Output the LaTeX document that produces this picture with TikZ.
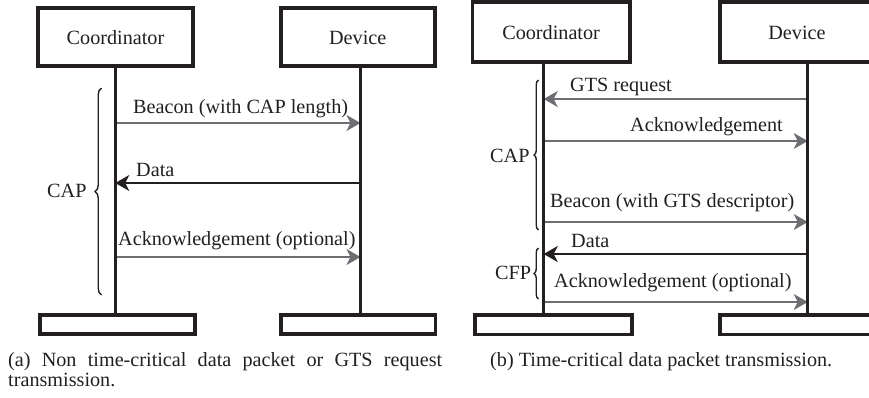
\documentclass[tikz,border=0pt]{standalone}
\usepackage{fontspec}
\setmainfont{Liberation Serif}
\usetikzlibrary{arrows.meta,decorations.pathreplacing}
\definecolor{ink}{HTML}{231F20}
\definecolor{msggray}{HTML}{6D6E71}
\begin{document}
\begin{tikzpicture}[x=1pt,y=-1pt,
  every node/.style={font=\fontsize{20.2}{24}\selectfont, text=ink, inner sep=0pt},
  actor/.style={draw=ink, line width=3.6pt, text height=15pt, text depth=0pt},
  endbox/.style={draw=ink, line width=3.6pt},
  life/.style={draw=ink, line width=3.4pt},
  msg/.style={draw=msggray, line width=2pt, -{Stealth[length=14pt,width=16pt,inset=4pt]}},
  datamsg/.style={msg, draw=ink},
  lbl/.style={anchor=base west},
  period/.style={draw=ink, line width=1.4pt, decorate, decoration={brace, amplitude=#1}}]
\useasboundingbox (0,0) rectangle (869,397);
\clip (0,0) rectangle (869,397);

% ---------- (a) non time-critical transfer ----------
\node[actor, minimum width=155pt, minimum height=58.3pt] (coordA) at (115.5,36.85) {Coordinator};
\node[actor, minimum width=154pt, minimum height=58.3pt] (devA) at (357.7,36.85) {Device};
\node[endbox, minimum width=155pt, minimum height=19pt] (endcA) at (117.2,324.5) {};
\node[endbox, minimum width=154.6pt, minimum height=19pt] (enddA) at (358,324.5) {};
\coordinate (xcA) at (115.3,0);
\coordinate (xdA) at (360.5,0);

\draw[msg] (xcA |- 0,123) -- (xdA |- 0,123);
\draw[datamsg] (xdA |- 0,183) -- (xcA |- 0,183);
\draw[msg] (xcA |- 0,257) -- (xdA |- 0,257);

\draw[life] (coordA.south -| xcA) -- (endcA.north -| xcA);
\draw[life] (devA.south -| xdA) -- (enddA.north -| xdA);

\node[lbl] (lbA1) at (133,113) {Beacon (with CAP length)};
\node[lbl] (lbA2) at (136,176) {Data};
\node[lbl] (lbA3) at (118,245) {Acknowledgement (optional)};

\coordinate (capAtop) at (101.5,88);
\coordinate (capAbot) at (101.5,295);
\draw[period=6.5pt] (capAbot) -- (capAtop);
\node[lbl] (capA) at (47,197) {CAP};

\node[lbl] (capt1) at (8,366.7) {\makebox[434pt][s]{(a) Non time-critical data packet or GTS request}};
\node[lbl] (capt2) at (8,386.7) {transmission.};

% ---------- (b) time-critical transfer ----------
\node[actor, minimum width=157.2pt, minimum height=60.2pt] (coordB) at (551.1,31.9) {Coordinator};
\node[actor, minimum width=154.6pt, minimum height=60.2pt] (devB) at (797,31.9) {Device};
\node[endbox, minimum width=157.3pt, minimum height=19.3pt] (endcB) at (553.35,324.65) {};
\node[endbox, minimum width=154.6pt, minimum height=19.3pt] (enddB) at (797,324.65) {};
\coordinate (xcB) at (543.7,0);
\coordinate (xdB) at (807.7,0);

\draw[msg] (xdB |- 0,99) -- (xcB |- 0,99);
\draw[msg] (xcB |- 0,141) -- (xdB |- 0,141);
\draw[msg] (xcB |- 0,222) -- (xdB |- 0,222);
\draw[datamsg] (xdB |- 0,254) -- (xcB |- 0,254);
\draw[msg] (xcB |- 0,302) -- (xdB |- 0,302);

\draw[life] (coordB.south -| xcB) -- (endcB.north -| xcB);
\draw[life] (devB.south -| xdB) -- (enddB.north -| xdB);

\node[lbl] (lbB1) at (570,91) {GTS request};
\node[lbl] (lbB2) at (630,131) {Acknowledgement};
\node[lbl] (lbB3) at (550,207) {Beacon (with GTS descriptor)};
\node[lbl] (lbB4) at (571,247) {Data};
\node[lbl] (lbB5) at (554,287) {Acknowledgement (optional)};

\coordinate (capBtop) at (538.5,80);
\coordinate (capBbot) at (538.5,230);
\draw[period=4.5pt] (capBbot) -- (capBtop);
\node[lbl] (capB) at (490,162) {CAP};

\coordinate (cfpBtop) at (538.5,248);
\coordinate (cfpBbot) at (538.5,299);
\draw[period=4.5pt] (cfpBbot) -- (cfpBtop);
\node[lbl] (cfpB) at (495,279) {CFP};

\node[lbl] (captB) at (490,366) {(b) Time-critical data packet transmission.};
\end{tikzpicture}
\end{document}
